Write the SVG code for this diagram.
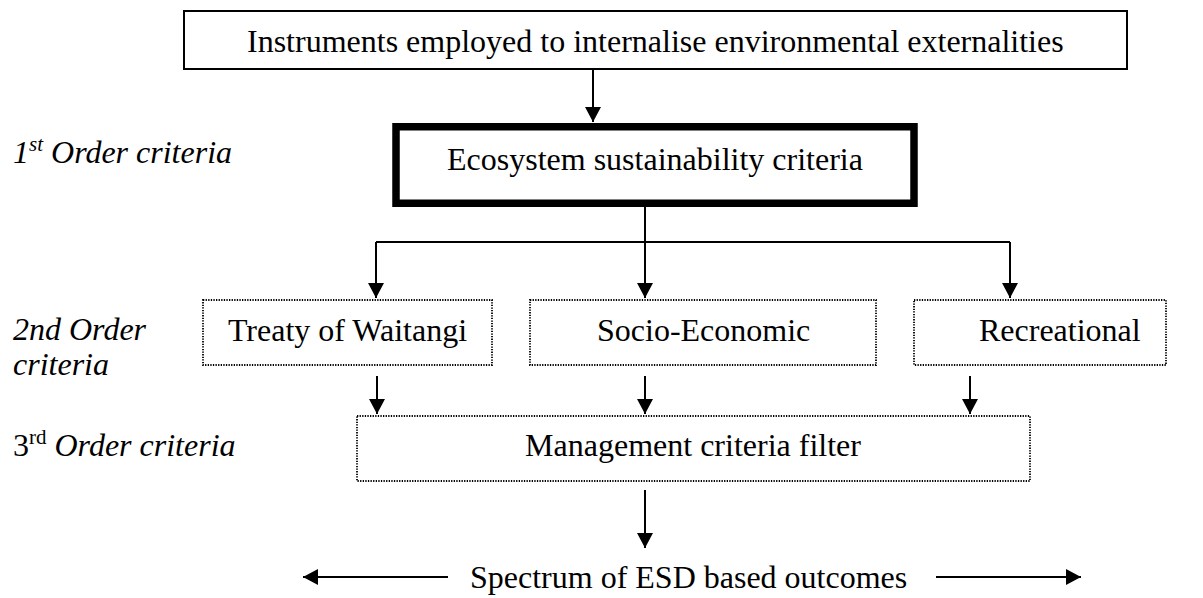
<svg xmlns="http://www.w3.org/2000/svg" width="1203" height="598" viewBox="0 0 1203 598">
<style>
text{font-family:"Liberation Serif","Times New Roman",serif;font-size:32px;fill:#000}
.it{font-style:italic}
.sup{font-size:21px}
.box{fill:#fff;stroke:#000;stroke-width:2}
.thick{fill:#fff;stroke:#000;stroke-width:7.5}
.dot{fill:#fff;stroke:#000;stroke-width:1.8;stroke-dasharray:1.3 1.3}
.c{fill:none;stroke:#000;stroke-width:2}
.mid{text-anchor:middle}
</style>
<defs>
<marker id="ah" markerWidth="16" markerHeight="16" refX="15" refY="8" orient="auto" markerUnits="userSpaceOnUse">
<path d="M0,0 L15,8 L0,16 z" fill="#000"/>
</marker>
</defs>
<rect width="1203" height="598" fill="#fff"/>

<g id="labels">
<text class="it" x="13" y="163">1<tspan class="sup" dy="-12">st</tspan><tspan dy="12"> Order criteria</tspan></text>
<text class="it" x="13" y="340">2nd Order</text>
<text class="it" x="13" y="375">criteria</text>
<text x="13" y="456">3<tspan class="sup" dy="-12">rd</tspan><tspan class="it" dy="12"> Order criteria</tspan></text>
</g>

<g id="instruments">
<rect class="box" x="184" y="11" width="943" height="58"/>
<text x="247" y="52">Instruments employed to internalise environmental externalities</text>
</g>

<g id="ecosystem">
<rect class="thick" x="396" y="126.75" width="518" height="76.5"/>
<text x="447" y="170">Ecosystem sustainability criteria</text>
</g>

<g id="treaty">
<rect class="dot" x="203" y="300" width="289" height="65"/>
<text class="mid" x="347.5" y="341">Treaty of Waitangi</text>
</g>

<g id="socio">
<rect class="dot" x="530" y="300" width="346" height="65"/>
<text x="597" y="341">Socio-Economic</text>
</g>

<g id="recreational">
<rect class="dot" x="914" y="300" width="252" height="65"/>
<text x="979" y="341">Recreational</text>
</g>

<g id="management">
<rect class="dot" x="357" y="416" width="673" height="65"/>
<text class="mid" x="693" y="456">Management criteria filter</text>
</g>

<g id="outcomes">
<text x="470" y="588">Spectrum of ESD based outcomes</text>
</g>

<g id="connectors">
<path class="c" d="M593,69 V122" marker-end="url(#ah)"/>
<path class="c" d="M645,207 V298" marker-end="url(#ah)"/>
<path class="c" d="M376,242 H1010"/>
<path class="c" d="M376,242 V298" marker-end="url(#ah)"/>
<path class="c" d="M1010,242 V298" marker-end="url(#ah)"/>
<path class="c" d="M377,376 V414" marker-end="url(#ah)"/>
<path class="c" d="M645,376 V414" marker-end="url(#ah)"/>
<path class="c" d="M970,376 V414" marker-end="url(#ah)"/>
<path class="c" d="M645,490 V548" marker-end="url(#ah)"/>
<path class="c" d="M448,577 H303" marker-end="url(#ah)"/>
<path class="c" d="M936,577 H1081" marker-end="url(#ah)"/>
</g>
</svg>
